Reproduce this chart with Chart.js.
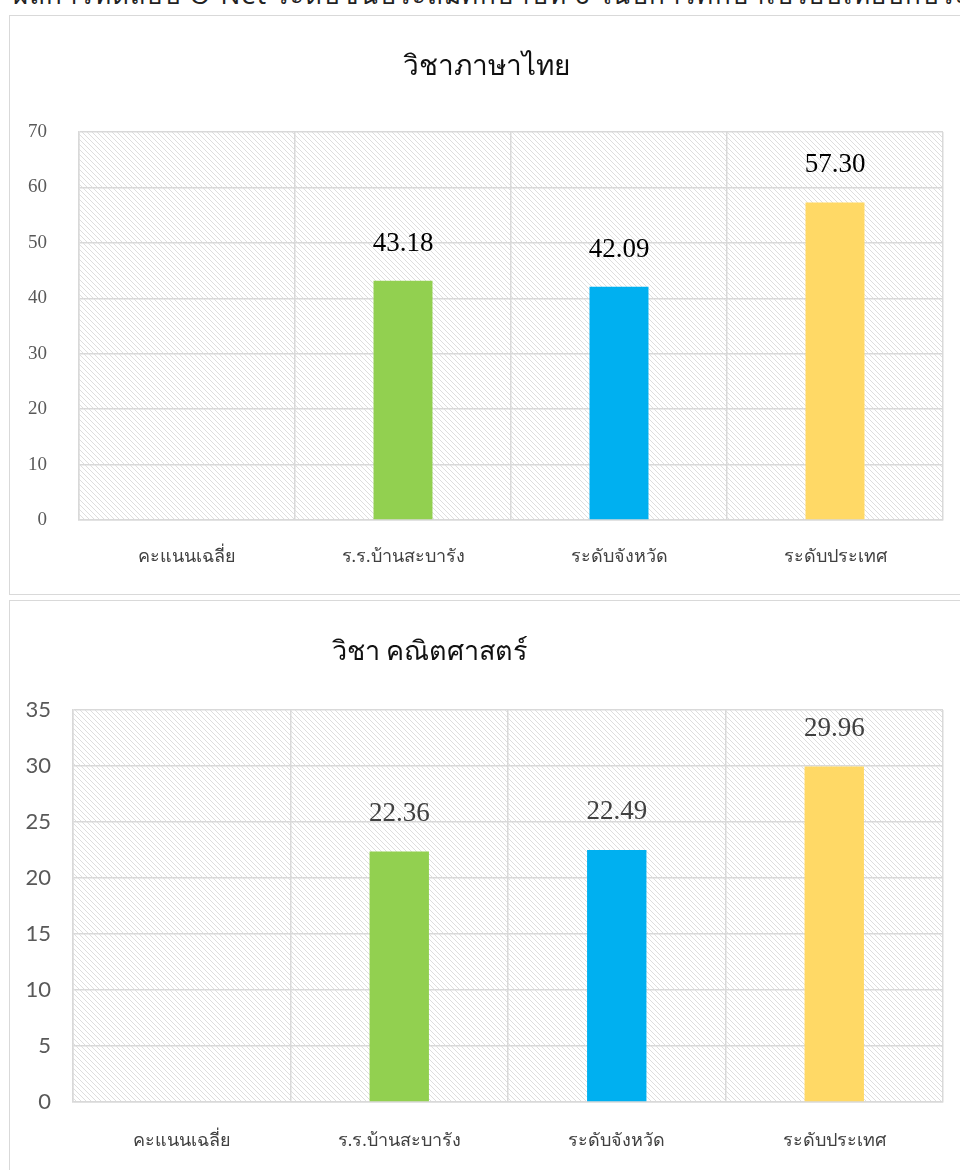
<!DOCTYPE html>
<html>
<head>
<meta charset="utf-8">
<script src="https://cdn.jsdelivr.net/npm/chart.js@4.4.1/dist/chart.umd.min.js"></script>
<style>
    body { margin: 0; background: #fff; width: 960px; height: 1170px; overflow: hidden; position: relative; }
    .caption { position: absolute; left: 13px; top: -19px; font-family: "Noto Sans", sans-serif; font-size: 26px; line-height: 1; color: #222; white-space: nowrap; letter-spacing: 1px; }
    .frame { position: absolute; border: 1.5px solid #d9d9d9; background: #fff; }
    .holder { position: absolute; left: 0; }
</style>
</head>
<body>
<div class="caption">ผลการทดสอบ O-Net ระดับชั้นประถมศึกษาปีที่ 6 ในปีการศึกษาเปรียบเทียบกับระดับจังหวัดและระดับประเทศ</div>
<div class="frame" style="left:9px; top:15px; width:980px; height:578px;"></div>
<div class="frame" style="left:9px; top:600px; width:980px; height:620px;"></div>
<div class="holder" style="top:0px;"><canvas id="thaiChart" width="960" height="597"></canvas></div>
<div class="holder" style="top:600px;"><canvas id="mathChart" width="960" height="570"></canvas></div>

<script>
// Data
const categories = ['คะแนนเฉลี่ย', 'ร.ร.บ้านสะบารัง', 'ระดับจังหวัด', 'ระดับประเทศ'];
const thaiScores = [null, 43.18, 42.09, 57.30];
const mathScores = [null, 22.36, 22.49, 29.96];
const thaiAxis = { max: 70, step: 10 };
const mathAxis = { max: 35, step: 5 };

const barColors = ['#92d050', '#92d050', '#00b0f0', '#ffd966'];
const gridColor = '#d9d9d9';

// Light downward diagonal fill, like the Excel plot area
function makeHatch() {
    const size = 5;
    const tile = document.createElement('canvas');
    tile.width = size;
    tile.height = size;
    const c = tile.getContext('2d');
    c.fillStyle = '#ffffff';
    c.fillRect(0, 0, size, size);
    c.strokeStyle = '#dedede';
    c.lineWidth = 1;
    c.beginPath();
    for (let k = -1; k <= 1; k++) {
        c.moveTo(k * size, 0);
        c.lineTo(k * size + size, size);
    }
    c.stroke();
    return c.createPattern(tile, 'repeat');
}

const hatchPlugin = {
    id: 'hatch',
    beforeDraw(chart) {
        const a = chart.chartArea;
        const ctx = chart.ctx;
        ctx.save();
        ctx.fillStyle = makeHatch();
        ctx.fillRect(a.left, a.top, a.right - a.left, a.bottom - a.top);
        ctx.restore();
    }
};

// Value labels above each bar
const valueLabels = {
    id: 'valueLabels',
    afterDatasetsDraw(chart, args, opts) {
        const ctx = chart.ctx;
        const meta = chart.getDatasetMeta(0);
        const values = chart.data.datasets[0].data;
        ctx.save();
        ctx.font = opts.font;
        ctx.fillStyle = opts.color;
        ctx.textAlign = 'center';
        ctx.textBaseline = 'middle';
        meta.data.forEach((bar, i) => {
            if (values[i] == null) return;
            ctx.fillText(values[i].toFixed(2), bar.x, bar.y - opts.offset);
        });
        ctx.restore();
    }
};

// Heading placed where the original chart title sits
const heading = {
    id: 'heading',
    afterDraw(chart, args, opts) {
        const ctx = chart.ctx;
        ctx.save();
        ctx.font = opts.font;
        ctx.fillStyle = '#111';
        ctx.textAlign = 'center';
        ctx.textBaseline = 'alphabetic';
        ctx.fillText(opts.text, opts.x, opts.y);
        ctx.restore();
    }
};

function buildChart(id, scores, axis, cfg) {
    const ctx = document.getElementById(id).getContext('2d');
    return new Chart(ctx, {
        type: 'bar',
        data: {
            labels: categories,
            datasets: [{
                data: scores,
                backgroundColor: barColors,
                borderWidth: 0,
                barPercentage: 0.273,
                categoryPercentage: 1
            }]
        },
        plugins: [hatchPlugin, valueLabels, heading],
        options: {
            responsive: false,
            animation: false,
            layout: { padding: { top: cfg.top, right: 17, left: 0, bottom: 0 } },
            plugins: {
                legend: { display: false },
                tooltip: { enabled: false },
                valueLabels: { font: '27px "Liberation Serif", serif', color: cfg.valueColor, offset: cfg.valueOffset },
                heading: { text: cfg.title, x: cfg.titleX, y: cfg.titleY, font: cfg.titleFont }
            },
            scales: {
                x: {
                    grid: { color: gridColor, lineWidth: 1.5, offset: true, drawTicks: false },
                    border: { display: true, color: gridColor, width: 1.5 },
                    ticks: { color: '#404040', padding: cfg.xPad, font: { family: '"Liberation Serif", serif', size: 18 } },
                    afterFit: (scale) => { scale.height = cfg.xHeight; }
                },
                y: {
                    min: 0,
                    max: axis.max,
                    ticks: { stepSize: axis.step, color: '#595959', padding: cfg.yPad, font: cfg.tickFont },
                    grid: { color: gridColor, lineWidth: 1.5, drawTicks: false },
                    border: { display: true, color: gridColor, width: 1.5 },
                    afterFit: (scale) => { scale.width = cfg.yWidth; }
                }
            }
        }
    });
}

buildChart('thaiChart', thaiScores, thaiAxis, {
    title: 'วิชาภาษาไทย', titleX: 486, titleY: 75, titleFont: '28px "Liberation Serif", serif',
    top: 132, xHeight: 77, xPad: 26, yWidth: 79, yPad: 32,
    tickFont: { family: '"Liberation Serif", serif', size: 19 },
    valueColor: '#000000', valueOffset: 37
});

buildChart('mathChart', mathScores, mathAxis, {
    title: 'วิชา คณิตศาสตร์', titleX: 430, titleY: 60, titleFont: '27px "Liberation Serif", serif',
    top: 110, xHeight: 68, xPad: 28, yWidth: 73, yPad: 22,
    tickFont: { family: 'Lato, sans-serif', size: 22 },
    valueColor: '#404040', valueOffset: 38
});
</script>
</body>
</html>
